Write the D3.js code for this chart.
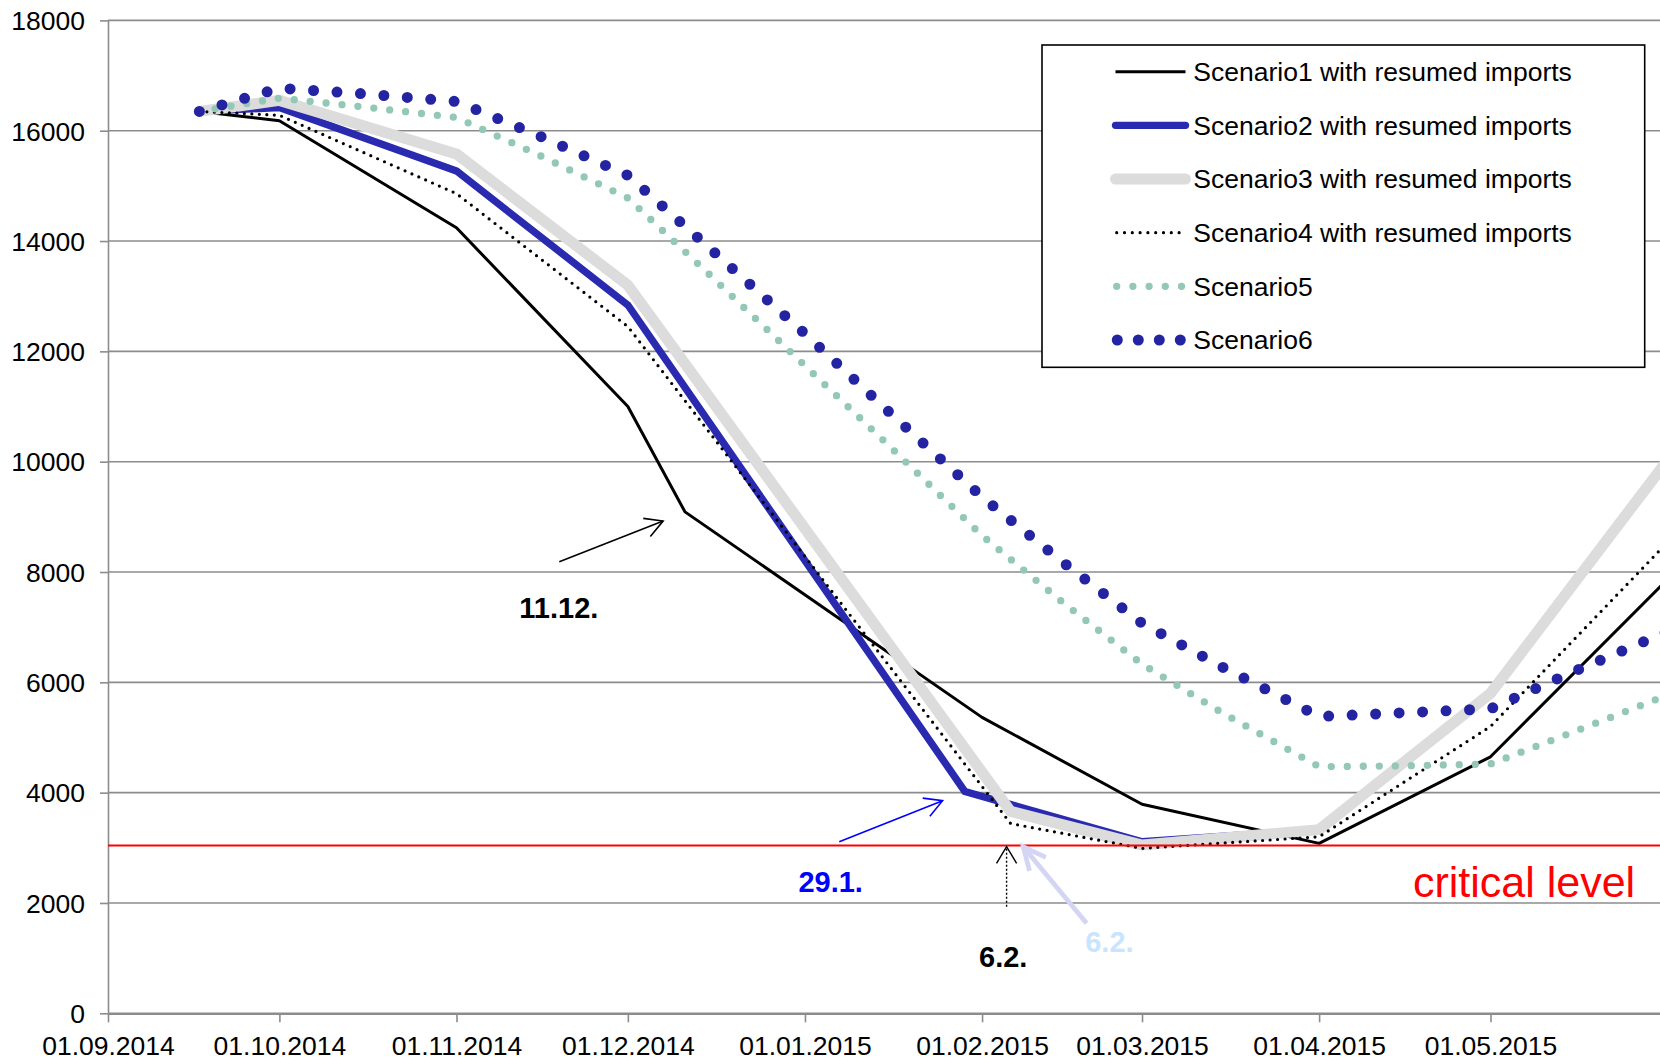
<!DOCTYPE html>
<html>
<head>
<meta charset="utf-8">
<script src="https://cdn.jsdelivr.net/npm/d3@7"></script>
<style>
  html, body { margin: 0; padding: 0; background: #fff; }
  svg { display: block; font-family: "Liberation Sans", Arial, sans-serif; }
</style>
</head>
<body>
<svg id="chart" width="1660" height="1061"></svg>
<script>
// ---------------- DATA ----------------
const xTickDates  = ["2014-09-01","2014-10-01","2014-11-01","2014-12-01","2015-01-01","2015-02-01","2015-03-01","2015-04-01","2015-05-01"];
const xTickLabels = ["01.09.2014","01.10.2014","01.11.2014","01.12.2014","01.01.2015","01.02.2015","01.03.2015","01.04.2015","01.05.2015"];
const yTicks = [0, 2000, 4000, 6000, 8000, 10000, 12000, 14000, 16000, 18000];

const seriesNames = [
  "Scenario1 with resumed imports",
  "Scenario2 with resumed imports",
  "Scenario3 with resumed imports",
  "Scenario4 with resumed imports",
  "Scenario5",
  "Scenario6"
];

const datesS1 = ["2014-09-17","2014-10-01","2014-11-01","2014-12-01","2014-12-11","2015-02-01","2015-03-01","2015-04-01","2015-05-01","2015-06-01"];
const scenario1 = [16350, 16180, 14240, 11000, 9090, 5365, 3790, 3080, 4650, 7870];

const datesS2 = ["2014-09-17","2014-10-01","2014-11-01","2014-12-01","2015-01-29","2015-03-01","2015-04-01","2015-05-01","2015-06-01"];
const scenario2 = [16350, 16420, 15270, 12840, 4020, 3110, 3330, 5800, 10030];

const datesS3S4 = ["2014-09-17","2014-10-01","2014-11-01","2014-12-01","2015-02-06","2015-03-01","2015-04-01","2015-05-01","2015-06-01"];
const scenario3 = [16350, 16550, 15580, 13200, 3660, 3050, 3330, 5800, 10030];
const scenario4 = [16350, 16280, 14860, 12450, 3440, 2990, 3200, 5200, 8540];

const datesS5S6 = ["2014-09-17","2014-10-01","2014-10-15","2014-11-01","2014-11-15","2014-12-01","2014-12-15",
                   "2015-01-01","2015-01-15","2015-02-01","2015-02-15","2015-03-01","2015-03-15","2015-04-01",
                   "2015-04-15","2015-05-01","2015-05-15","2015-06-01"];
const scenario5 = [16350, 16590, 16440, 16240, 15580, 14780, 13420, 11740, 10360, 8660, 7460, 6330, 5450, 4470, 4485, 4520, 5080, 5770];
const scenario6 = [16350, 16770, 16675, 16530, 15930, 15190, 13900, 12320, 10970, 9360, 8190, 7070, 6280, 5380, 5445, 5520, 6170, 6920];

const criticalLevel = 3040;
const criticalLabel = "critical level";

// annotations: [date, value] positions in data space
const annotationTexts  = ["11.12.", "29.1.", "6.2.", "6.2."];
const annotationTextAt = [["2014-11-18T22:00Z", 7160], ["2015-01-05T12:00Z", 2199], ["2015-02-04T17:00Z", 845], ["2015-02-23T07:00Z", 1117]];
const arrowTails = [["2014-11-19T00:00Z", 8186], ["2015-01-07T00:00Z", 3111], ["2015-02-05T07:00Z", 1932], ["2015-02-19T07:00Z", 1631]];
const arrowTips  = [["2014-12-07T04:00Z", 8924], ["2015-01-25T02:00Z", 3854], ["2015-02-05T07:00Z", 3020], ["2015-02-08T05:00Z", 3020]];
const criticalLabelAt = ["2015-04-17T10:00Z", 2108];

// ---------------- LAYOUT / STYLE ----------------
const W = 1660, H = 1061;
const plotLeft = 108, plotTop = 20.4, plotBottom = 1013.3, plotRightAtEnd = 1667.6;
const FONT = 26.5;

const parse = s => new Date(s.length === 10 ? s + "T00:00:00Z" : s);

const x = d3.scaleUtc()
  .domain([parse("2014-09-01"), parse("2015-06-01")])
  .range([plotLeft, plotRightAtEnd]);
const y = d3.scaleLinear().domain([0, 18000]).range([plotBottom, plotTop]);

const svg = d3.select("#chart");
svg.append("rect").attr("width", W).attr("height", H).attr("fill", "#fff");

const gridColor = "#8c8c8c";

// gridlines
svg.append("g").selectAll("line").data(yTicks.filter(v => v > 0)).join("line")
  .attr("x1", plotLeft).attr("x2", plotRightAtEnd)
  .attr("y1", d => y(d)).attr("y2", d => y(d))
  .attr("stroke", gridColor).attr("stroke-width", 1.6);

// y axis
const yAxis = svg.append("g").attr("transform", `translate(${plotLeft},0)`)
  .call(d3.axisLeft(y).tickValues(yTicks).tickSize(8).tickSizeOuter(0).tickPadding(15).tickFormat(d3.format("d")));
yAxis.select(".domain").attr("stroke", gridColor).attr("stroke-width", 1.6);
yAxis.selectAll(".tick line").attr("stroke", gridColor).attr("stroke-width", 1.6);
yAxis.selectAll(".tick text").attr("font-size", FONT).attr("fill", "#000")
  .attr("font-family", "'Liberation Sans', Arial, sans-serif").attr("dy", "0.35em");

// x axis
const xAxis = svg.append("g").attr("transform", `translate(0,${plotBottom})`)
  .call(d3.axisBottom(x).tickValues(xTickDates.map(parse)).tickSize(9).tickSizeOuter(0).tickPadding(14)
    .tickFormat((d, i) => xTickLabels[i]));
xAxis.select(".domain").attr("stroke", gridColor).attr("stroke-width", 2.6);
xAxis.selectAll(".tick line").attr("stroke", gridColor).attr("stroke-width", 1.6);
xAxis.selectAll(".tick text").attr("font-size", FONT).attr("fill", "#000")
  .attr("font-family", "'Liberation Sans', Arial, sans-serif");

// series
const line = d3.line().x(d => x(d[0])).y(d => y(d[1]));
const zip = (ds, vs) => ds.map((d, i) => [parse(d), vs[i]]);

const styles = [
  { color: "#000000", width: 3.0, dash: null, legendDash: null },
  { color: "#2a2ab0", width: 7.3, dash: null, legendDash: null },
  { color: "#dcdcdc", width: 11,  dash: null, legendDash: null },
  { color: "#000000", width: 3.2, dash: "0,7.5", legendDash: "0,7.8" },
  { color: "#93c8b4", width: 7.3, dash: "0,16",  legendDash: "0,16.2" },
  { color: "#2424a2", width: 11,  dash: "0,23.5", legendDash: "0,21" }
];

const seriesData = [
  zip(datesS1, scenario1),
  zip(datesS2, scenario2),
  zip(datesS3S4, scenario3),
  zip(datesS3S4, scenario4),
  zip(datesS5S6, scenario5),
  zip(datesS5S6, scenario6)
];

const gSeries = svg.append("g");
seriesData.forEach((data, i) => {
  const s = styles[i];
  const p = gSeries.append("path")
    .attr("d", line(data))
    .attr("fill", "none")
    .attr("stroke", s.color)
    .attr("stroke-width", s.width)
    .attr("stroke-linejoin", "round")
    .attr("stroke-linecap", "round");
  if (s.dash) p.attr("stroke-dasharray", s.dash);
});

// critical level line
svg.append("line")
  .attr("x1", plotLeft).attr("x2", plotRightAtEnd)
  .attr("y1", y(criticalLevel)).attr("y2", y(criticalLevel))
  .attr("stroke", "#ff0000").attr("stroke-width", 2);

svg.append("text")
  .attr("x", x(parse(criticalLabelAt[0]))).attr("y", y(criticalLabelAt[1]))
  .attr("font-size", 43).attr("fill", "#ff0000")
  .text(criticalLabel);

// annotations
const arrowStyles = [
  { color: "#000000", width: 1.6, dash: null, head: 20, angle: 29 },
  { color: "#0000ff", width: 1.6, dash: null, head: 20, angle: 29 },
  { color: "#000000", width: 1.4, dash: "2,2", head: 19.5, angle: 31 },
  { color: "#d4d4f4", width: 4.7, dash: null, head: 25, angle: 25 }
];
const textStyles = [
  { color: "#000000", size: 29 },
  { color: "#0000ff", size: 29 },
  { color: "#000000", size: 29 },
  { color: "#c8e4ff", size: 29 }
];

const gAnn = svg.append("g");
arrowTails.forEach((t, i) => {
  const st = arrowStyles[i];
  const x1 = x(parse(t[0])), y1 = y(t[1]);
  const x2 = x(parse(arrowTips[i][0])), y2 = y(arrowTips[i][1]);
  const shaft = gAnn.append("line")
    .attr("x1", x1).attr("y1", y1).attr("x2", x2).attr("y2", y2)
    .attr("stroke", st.color).attr("stroke-width", st.width);
  if (st.dash) shaft.attr("stroke-dasharray", st.dash);
  const ang = Math.atan2(y1 - y2, x1 - x2);
  const a = st.angle * Math.PI / 180;
  const p1 = [x2 + st.head * Math.cos(ang + a), y2 + st.head * Math.sin(ang + a)];
  const p2 = [x2 + st.head * Math.cos(ang - a), y2 + st.head * Math.sin(ang - a)];
  gAnn.append("path")
    .attr("d", `M${p1[0]},${p1[1]}L${x2},${y2}L${p2[0]},${p2[1]}`)
    .attr("fill", "none").attr("stroke", st.color).attr("stroke-width", st.width)
    .attr("stroke-linejoin", "miter");
});
annotationTexts.forEach((t, i) => {
  gAnn.append("text")
    .attr("x", x(parse(annotationTextAt[i][0]))).attr("y", y(annotationTextAt[i][1]))
    .attr("text-anchor", "middle")
    .attr("font-size", textStyles[i].size).attr("font-weight", "bold")
    .attr("fill", textStyles[i].color)
    .text(t);
});

// legend
const lg = svg.append("g");
lg.append("rect")
  .attr("x", 1042).attr("y", 45).attr("width", 602.7).attr("height", 322.3)
  .attr("fill", "#fff").attr("stroke", "#000").attr("stroke-width", 1.6);
seriesNames.forEach((name, i) => {
  const cy = 71.7 + i * 53.66;
  const s = styles[i];
  let xa = 1115.5, xb = 1185.5;
  if (i === 3) { xa = 1116.7; xb = 1179.2; }
  if (i === 4) { xa = 1116.7; xb = 1181.6; }
  if (i === 5) { xa = 1117.3; xb = 1180.4; }
  const l = lg.append("line")
    .attr("x1", xa).attr("x2", xb).attr("y1", cy).attr("y2", cy)
    .attr("stroke", s.color).attr("stroke-width", s.width)
    .attr("stroke-linecap", i === 0 ? "butt" : "round");
  if (s.legendDash) l.attr("stroke-dasharray", s.legendDash);
  lg.append("text")
    .attr("x", 1193.3).attr("y", cy).attr("dy", "0.35em")
    .attr("font-size", FONT).attr("fill", "#000")
    .text(name);
});
</script>
</body>
</html>
